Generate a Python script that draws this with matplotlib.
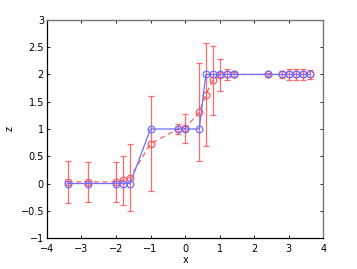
import matplotlib
matplotlib.use("Agg")
import matplotlib.pyplot as plt

# 讀圖估出的數據
x = [-3.40, -2.80, -2.00, -1.81, -1.59, -1.00, -0.20, 0.00, 0.41, 0.60,
     0.80, 1.00, 1.20, 1.40, 2.40, 2.81, 3.01, 3.21, 3.42, 3.61]
z_true = [0, 0, 0, 0, 0, 1, 1, 1, 1, 2, 2, 2, 2, 2, 2, 2, 2, 2, 2, 2]
z_pred = [0.03, 0.03, 0.03, 0.06, 0.11, 0.73, 1.00, 1.01, 1.31, 1.63,
          1.89, 1.99, 2.00, 2.00, 2.00, 2.00, 2.00, 2.00, 2.00, 2.00]
z_err = [0.38, 0.36, 0.36, 0.45, 0.62, 0.87, 0.09, 0.26, 0.90, 0.95,
         0.64, 0.30, 0.10, 0.04, 0.03, 0.07, 0.10, 0.10, 0.10, 0.08]
x_ticks = [-4, -3, -2, -1, 0, 1, 2, 3, 4]
y_ticks = [-1, -0.5, 0, 0.5, 1, 1.5, 2, 2.5, 3]

plt.rcParams['font.family'] = ['DejaVu Sans']
plt.rcParams['font.size'] = 7

fig = plt.figure(figsize=(3.57, 2.69), dpi=100)
ax = fig.add_axes([0.131, 0.115, 0.775, 0.811])

blue = '#6f6fff'
red = '#ff5a5a'

ax.errorbar(x, z_pred, yerr=z_err, fmt='none', ecolor=red, elinewidth=0.9,
            capsize=2.2, capthick=0.9, alpha=0.9)
ax.plot(x, z_pred, '--', color=red, lw=0.9, dashes=(4, 3), marker='o',
        mfc='none', mec=red, ms=4.8, mew=0.9)
ax.plot(x, z_true, '-', color=blue, lw=0.9, marker='o',
        mfc='none', mec=blue, ms=4.8, mew=0.9)

ax.set_xlim(-4, 4)
ax.set_ylim(-1, 3)
ax.set_xticks(x_ticks)
ax.set_yticks(y_ticks)
ax.set_yticklabels(['\u22121', '\u22120.5', '0', '0.5', '1', '1.5', '2', '2.5', '3'])
ax.set_xticklabels(['\u22124', '\u22123', '\u22122', '\u22121', '0', '1', '2', '3', '4'])
ax.tick_params(direction='in', length=2.5, width=0.6, top=True, right=True)
ax.tick_params(axis='x', pad=4)
ax.tick_params(axis='y', pad=2)
for s in ['left', 'bottom']:
    ax.spines[s].set_color('black')
    ax.spines[s].set_linewidth(0.9)
for s in ['top', 'right']:
    ax.spines[s].set_color('#777777')
    ax.spines[s].set_linewidth(1.0)

ax.set_xlabel('x', labelpad=1)
ax.set_ylabel('z', labelpad=4)

fig.savefig('out.png', dpi=100)
